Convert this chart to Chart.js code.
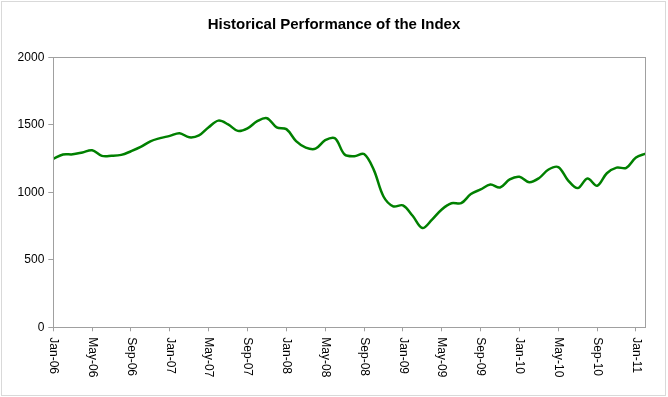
<!DOCTYPE html>
<html>
<head>
<meta charset="utf-8">
<script src="https://cdn.jsdelivr.net/npm/chart.js@4/dist/chart.umd.min.js"></script>
<style>
  body { margin: 0; background: #fff; }
  canvas { display: block; }
</style>
</head>
<body>
<canvas id="chart" width="668" height="397"></canvas>
<script>
const months = [
  "Jan-06", "Feb-06", "Mar-06", "Apr-06", "May-06", "Jun-06", "Jul-06", "Aug-06", "Sep-06", "Oct-06", "Nov-06", "Dec-06",
  "Jan-07", "Feb-07", "Mar-07", "Apr-07", "May-07", "Jun-07", "Jul-07", "Aug-07", "Sep-07", "Oct-07", "Nov-07", "Dec-07",
  "Jan-08", "Feb-08", "Mar-08", "Apr-08", "May-08", "Jun-08", "Jul-08", "Aug-08", "Sep-08", "Oct-08", "Nov-08", "Dec-08",
  "Jan-09", "Feb-09", "Mar-09", "Apr-09", "May-09", "Jun-09", "Jul-09", "Aug-09", "Sep-09", "Oct-09", "Nov-09", "Dec-09",
  "Jan-10", "Feb-10", "Mar-10", "Apr-10", "May-10", "Jun-10", "Jul-10", "Aug-10", "Sep-10", "Oct-10", "Nov-10", "Dec-10",
  "Jan-11", "Feb-11"
];

const indexValues = [
  1248, 1280, 1281, 1295, 1311, 1270, 1270, 1277, 1304, 1336, 1378, 1401,
  1418, 1438, 1407, 1421, 1482, 1531, 1503, 1455, 1474, 1527, 1549, 1481,
  1468, 1379, 1331, 1323, 1386, 1400, 1280, 1267, 1283, 1166, 969, 896,
  903, 826, 735, 798, 873, 919, 919, 987, 1021, 1057, 1036, 1096,
  1115, 1074, 1104, 1169, 1187, 1089, 1031, 1102, 1049, 1141, 1183, 1181,
  1258, 1286
];

// every 4th month gets a label and a tick mark
const labelEvery = 4;
const yTicks = [0, 500, 1000, 1500, 2000];

const FONT = "'Liberation Sans', Arial, sans-serif";

// outer frame + plot area border
const framePlugin = {
  id: "frame",
  beforeDraw(chart) {
    const ctx = chart.ctx;
    ctx.save();
    ctx.fillStyle = "#fff";
    ctx.fillRect(0, 0, chart.width, chart.height);
    ctx.strokeStyle = "#d9d9d9";
    ctx.lineWidth = 1;
    ctx.strokeRect(1.5, 1.5, 664, 394);
    ctx.restore();
  },
  afterDraw(chart) {
    const { ctx, chartArea } = chart;
    ctx.save();
    ctx.strokeStyle = "#a0a0a0";
    ctx.lineWidth = 1;
    ctx.strokeRect(
      Math.round(chartArea.left) + 0.5,
      Math.round(chartArea.top) + 0.5,
      Math.round(chartArea.right - chartArea.left),
      Math.round(chartArea.bottom - chartArea.top)
    );
    ctx.restore();
  }
};

// x labels rotated clockwise (read top to bottom), like the excel chart
const xLabelPlugin = {
  id: "xLabels",
  afterDraw(chart) {
    const ctx = chart.ctx;
    const scale = chart.scales.x;
    ctx.save();
    ctx.font = "12px " + FONT;
    ctx.fillStyle = "#000";
    ctx.textAlign = "left";
    ctx.textBaseline = "middle";
    scale.ticks.forEach((t, i) => {
      const x = scale.getPixelForTick(i);
      ctx.save();
      ctx.translate(x, scale.top + 10);
      ctx.rotate(Math.PI / 2);
      ctx.fillText(months[t.value], 0, 0);
      ctx.restore();
    });
    ctx.restore();
  }
};

new Chart(document.getElementById("chart"), {
  type: "line",
  data: {
    labels: months,
    datasets: [{
      data: indexValues,
      borderColor: "#008000",
      borderWidth: 2.5,
      pointRadius: 0,
      tension: 0.35,
      fill: false
    }]
  },
  options: {
    responsive: false,
    animation: false,
    layout: { padding: 0 },
    plugins: {
      legend: { display: false },
      tooltip: { enabled: false },
      title: {
        display: true,
        text: "Historical Performance of the Index",
        color: "#000",
        font: { family: FONT, size: 15, weight: "bold" },
        padding: { top: 16, bottom: 23.3 }
      }
    },
    scales: {
      x: {
        type: "category",
        offset: false,
        afterBuildTicks: (scale) => {
          scale.ticks = scale.ticks.filter(t => t.value % labelEvery === 0);
        },
        afterFit: (scale) => { scale.height = 69.7; },
        ticks: { display: false, autoSkip: false },
        grid: { drawOnChartArea: false, drawTicks: true, tickLength: 4, color: "#a0a0a0", offset: false },
        border: { display: false }
      },
      y: {
        min: 0,
        max: 2000,
        afterBuildTicks: (scale) => {
          scale.ticks = yTicks.map(v => ({ value: v }));
        },
        afterFit: (scale) => { scale.width = 53.3; },
        ticks: {
          color: "#000",
          padding: 4,
          font: { family: FONT, size: 12 },
          callback: (v) => String(v)
        },
        grid: { drawOnChartArea: false, drawTicks: true, tickLength: 5, color: "#a0a0a0" },
        border: { display: false }
      },
      // empty spacer on the right so the plot stops short of the frame
      spacer: {
        type: "linear",
        position: "right",
        afterFit: (scale) => { scale.width = 22.3; },
        ticks: { display: false },
        grid: { display: false },
        border: { display: false }
      }
    }
  },
  plugins: [framePlugin, xLabelPlugin]
});
</script>
</body>
</html>
